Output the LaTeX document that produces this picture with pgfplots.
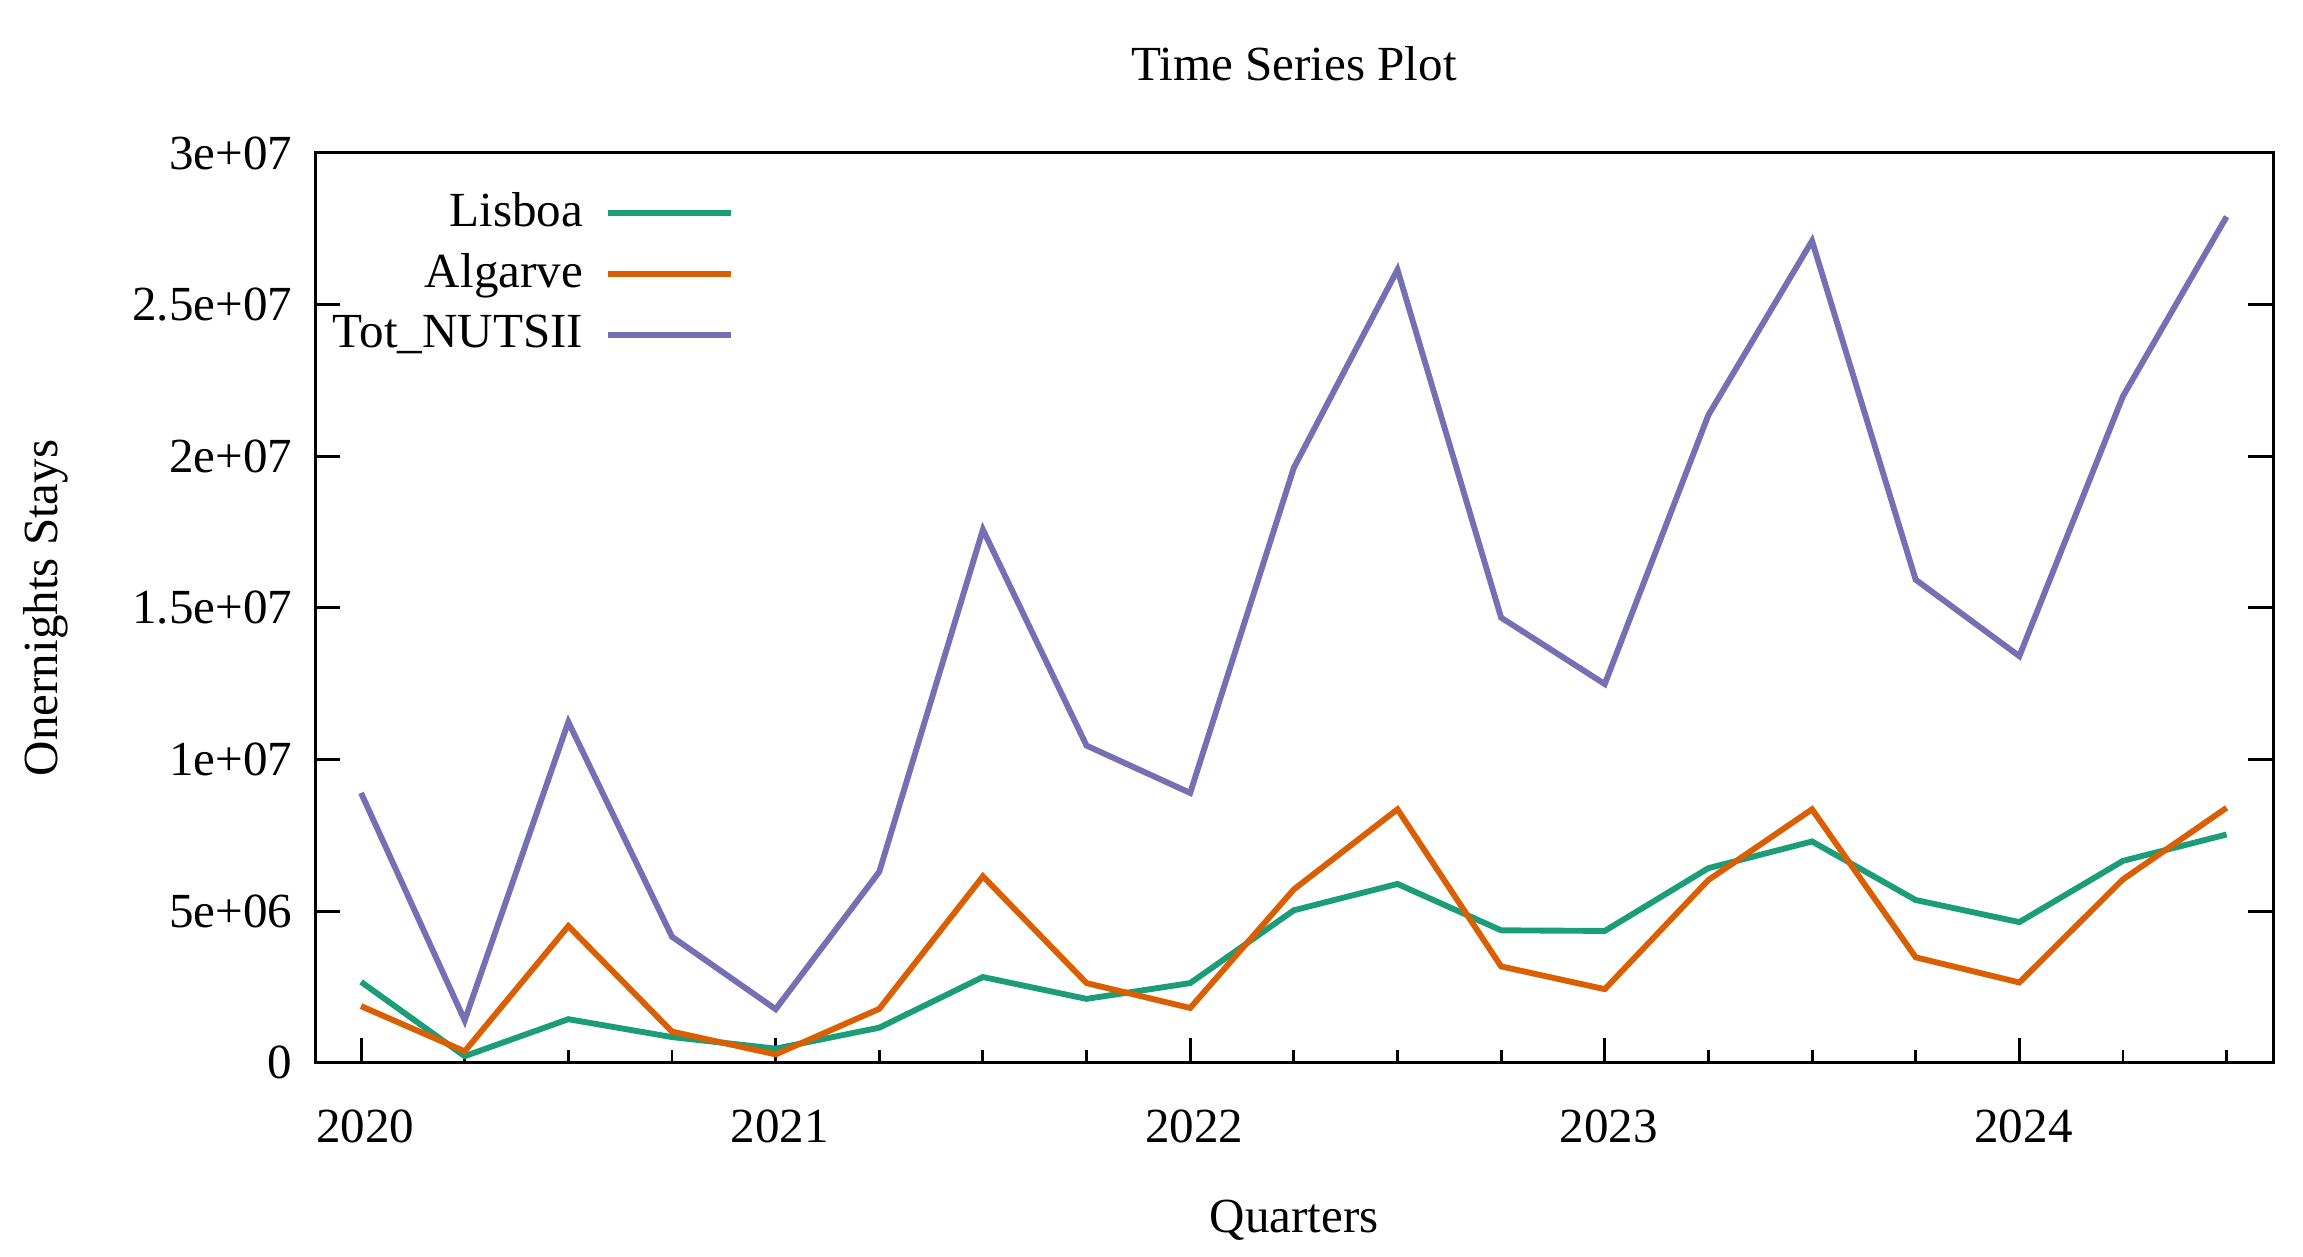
\documentclass[border=0pt]{standalone}
\usepackage{fontspec}
\setmainfont{Liberation Serif}
\usepackage{pgfplots}
\pgfplotsset{compat=1.18}

\definecolor{lisboa}{HTML}{1B9E77}
\definecolor{algarve}{HTML}{D95F02}
\definecolor{totnuts}{HTML}{7570B3}

\pgfplotstableread{
q       lisboa  algarve tot
2020.00 2.67e6  1.87e6  8.90e6
2020.25 0.22e6  0.38e6  1.40e6
2020.50 1.44e6  4.51e6  11.24e6
2020.75 0.85e6  1.03e6  4.16e6
2021.00 0.47e6  0.28e6  1.77e6
2021.25 1.16e6  1.78e6  6.30e6
2021.50 2.83e6  6.15e6  17.58e6
2021.75 2.11e6  2.63e6  10.46e6
2022.00 2.63e6  1.81e6  8.90e6
2022.25 5.03e6  5.72e6  19.62e6
2022.50 5.90e6  8.36e6  26.15e6
2022.75 4.37e6  3.18e6  14.68e6
2023.00 4.35e6  2.43e6  12.49e6
2023.25 6.42e6  6.03e6  21.36e6
2023.50 7.30e6  8.36e6  27.10e6
2023.75 5.37e6  3.48e6  15.93e6
2024.00 4.64e6  2.65e6  13.41e6
2024.25 6.66e6  6.05e6  21.98e6
2024.50 7.53e6  8.41e6  27.90e6
}\stays

\begin{document}
\begin{tikzpicture}
\begin{axis}[
  width=14.03cm, height=6.52cm,
  scale only axis,
  xmin=2019.889, xmax=2024.612,
  ymin=0, ymax=3e7,
  scaled ticks=false,
  axis line style={line width=0.6pt},
  tick style={black, line width=0.6pt},
  tick align=inside,
  xtick pos=bottom,
  ytick pos=both,
  xtick={2020,2021,2022,2023,2024},
  xticklabels={2020,2021,2022,2023,2024},
  minor xtick={2020.25,2020.5,2020.75,2021.25,2021.5,2021.75,2022.25,2022.5,2022.75,2023.25,2023.5,2023.75,2024.25,2024.5},
  major tick length=0.18cm,
  minor tick length=0.09cm,
  ytick={0,5e6,1e7,1.5e7,2e7,2.5e7,3e7},
  yticklabels={0,5e+06,1e+07,1.5e+07,2e+07,2.5e+07,3e+07},
  xticklabel style={yshift=-0.21cm, xshift=0.03cm},
  yticklabel style={xshift=-0.04cm},
  xlabel={Quarters},
  xlabel style={at={(0.5,-0.1725)}, anchor=center},
  ylabel={Onernights Stays},
  ylabel style={at={(-0.1375,0.5)}, anchor=center},
  legend plot pos=right,
  legend cell align=right,
  legend style={draw=none, fill=none, at={(0.222,0.979)}, anchor=north east,
    row sep=0.0cm, font=\normalsize},
  legend image code/.code={\path (0cm,0cm); \draw[#1] (0.09cm,0cm) -- (0.97cm,0cm);},
  every axis plot/.append style={line width=1.2pt},
  clip=false,
]
\addplot[color=lisboa] table[x=q, y=lisboa] {\stays};
\addlegendentry{Lisboa}
\addplot[color=algarve] table[x=q, y=algarve] {\stays};
\addlegendentry{Algarve}
\addplot[color=totnuts] table[x=q, y=tot] {\stays};
\addlegendentry{Tot\_NUTSII}
% title
\node[anchor=center] at (rel axis cs:0.5,1.0978) {Time Series Plot};
% page margins as in the reference
\path[use as bounding box] (rel axis cs:-0.1609,-0.2132) rectangle (rel axis cs:1.01532,1.1681);
\end{axis}
\end{tikzpicture}
\end{document}
